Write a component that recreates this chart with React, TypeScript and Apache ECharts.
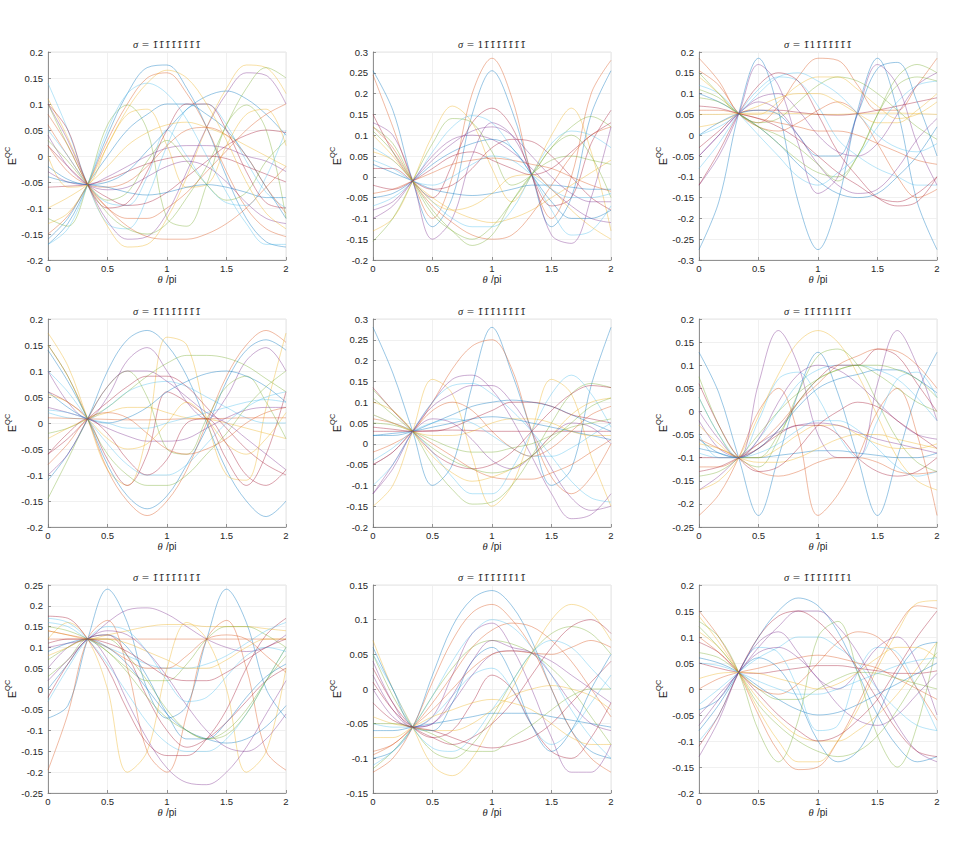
import React, { useEffect, useRef } from 'react';
import * as echarts from 'echarts';

const THETA = [0, 0.1667, 0.3333, 0.5, 0.6667, 0.8333, 1, 1.1667, 1.3333, 1.5, 1.6667, 1.8333, 2];

const P1 = [
  [-0.17, -0.13, -0.055, 0.04, 0.12, 0.17, 0.175, 0.13, 0.055, -0.04, -0.12, -0.165, -0.175],
  [-0.15, -0.115, -0.055, 0.03, 0.1, 0.15, 0.16, 0.12, 0.055, -0.03, -0.1, -0.14, -0.155],
  [0.11, 0.035, -0.055, -0.135, -0.175, -0.17, -0.12, -0.04, 0.055, 0.13, 0.175, 0.17, 0.12],
  [0.1, 0.03, -0.055, -0.125, -0.16, -0.155, -0.11, -0.03, 0.055, 0.12, 0.16, 0.155, 0.1],
  [-0.12, -0.135, -0.055, 0.06, 0.098, 0.05, -0.12, -0.135, -0.055, 0.06, 0.098, 0.05, -0.12],
  [0.14, 0.05, -0.055, -0.13, -0.14, -0.08, 0.02, 0.09, 0.1, 0.06, -0.01, -0.07, -0.1],
  [-0.06, -0.058, -0.055, -0.045, -0.03, -0.015, -0.005, 0.0, 0.0, -0.005, -0.02, -0.035, -0.05],
  [-0.02, -0.045, -0.055, -0.05, -0.03, 0.01, 0.05, 0.09, 0.115, 0.125, 0.11, 0.08, 0.04],
  [0.06, 0.0, -0.055, -0.1, -0.135, -0.155, -0.16, -0.16, -0.15, -0.13, -0.1, -0.06, -0.02],
  [-0.1, -0.08, -0.055, -0.02, 0.02, 0.045, 0.06, 0.065, 0.055, 0.04, 0.02, 0.0, -0.02],
  [-0.03, -0.05, -0.055, -0.04, -0.02, 0.0, 0.015, 0.02, 0.02, 0.015, 0.0, -0.01, -0.03],
  [0.1, 0.02, -0.055, -0.11, -0.14, -0.15, -0.13, -0.08, -0.02, 0.06, 0.13, 0.17, 0.15],
  [0.05, 0.0, -0.055, -0.09, -0.095, -0.04, 0.05, 0.0, -0.055, -0.09, -0.095, -0.04, 0.05],
  [0.02, -0.02, -0.055, -0.08, -0.095, -0.09, -0.07, -0.04, -0.01, 0.02, 0.04, 0.05, 0.045],
  [-0.16, -0.12, -0.055, 0.0, 0.05, 0.08, 0.1, 0.1, 0.08, 0.05, 0.0, -0.06, -0.12],
  [0.02, -0.03, -0.055, -0.06, -0.05, -0.02, 0.02, 0.05, 0.055, 0.04, 0.0, -0.06, -0.11],
  [0.0, -0.06, -0.055, 0.02, 0.08, 0.09, 0.02, -0.06, -0.055, 0.02, 0.08, 0.09, 0.02],
  [0.04, -0.02, -0.055, -0.065, -0.06, -0.04, -0.02, -0.01, -0.02, -0.05, -0.09, -0.12, -0.13],
  [0.03, -0.01, -0.055, -0.085, -0.07, -0.01, 0.03, -0.01, -0.055, -0.085, -0.07, -0.01, 0.03],
  [-0.17, -0.14, -0.055, 0.05, 0.12, 0.14, 0.12, 0.07, 0.0, -0.07, -0.13, -0.17, -0.17],
  [0.1, 0.05, -0.055, -0.1, -0.09, -0.03, 0.05, 0.1, 0.1, 0.05, -0.03, -0.09, -0.1],
  [-0.04, -0.05, -0.055, -0.06, -0.07, -0.075, -0.07, -0.06, -0.055, -0.06, -0.07, -0.08, -0.08],
  [0.08, 0.02, -0.055, -0.1, -0.12, -0.12, -0.1, -0.07, -0.03, 0.01, 0.05, 0.08, 0.1],
  [-0.13, -0.11, -0.055, 0.02, 0.09, 0.14, 0.165, 0.15, 0.1, 0.03, -0.05, -0.11, -0.14],
];

const P2 = [
  [0.255, 0.16, -0.01, -0.12, -0.05, 0.15, 0.255, 0.16, 0.005, -0.12, -0.05, 0.15, 0.255],
  [0.245, 0.12, -0.01, -0.1, 0.0, 0.2, 0.285, 0.19, 0.005, -0.1, 0.0, 0.2, 0.28],
  [-0.13, -0.1, -0.01, 0.1, 0.17, 0.13, 0.02, -0.06, 0.005, 0.1, 0.165, 0.06, -0.13],
  [0.13, 0.1, -0.01, -0.15, -0.1, 0.05, 0.13, 0.1, 0.005, -0.14, -0.16, -0.05, 0.12],
  [0.12, 0.08, -0.01, -0.09, -0.13, -0.15, -0.12, -0.06, 0.005, 0.07, 0.12, 0.145, 0.12],
  [-0.07, -0.05, -0.01, 0.06, 0.12, 0.147, 0.13, 0.07, 0.005, -0.08, -0.14, -0.13, -0.07],
  [0.15, 0.06, -0.01, -0.05, 0.03, 0.13, 0.165, 0.12, 0.005, -0.07, -0.05, 0.08, 0.16],
  [0.03, 0.01, -0.01, -0.03, -0.04, -0.045, -0.04, -0.03, -0.02, -0.02, -0.025, -0.03, -0.03],
  [-0.04, -0.03, -0.01, 0.01, 0.03, 0.04, 0.045, 0.04, 0.03, 0.02, 0.0, -0.02, -0.035],
  [0.1, 0.05, -0.01, -0.05, -0.08, -0.1, -0.11, -0.1, -0.08, -0.05, -0.02, 0.01, 0.04],
  [-0.1, -0.07, -0.01, 0.05, 0.09, 0.1, 0.09, 0.06, 0.02, -0.03, -0.07, -0.1, -0.11],
  [-0.155, -0.1, -0.01, 0.08, 0.14, 0.13, 0.06, -0.02, 0.005, 0.07, 0.1, 0.05, -0.05],
  [0.07, 0.04, -0.01, -0.06, -0.1, -0.12, -0.12, -0.08, 0.005, 0.08, 0.11, 0.1, 0.07],
  [0.02, 0.02, -0.01, -0.03, -0.02, 0.02, 0.07, 0.09, 0.085, 0.05, 0.0, -0.05, -0.08],
  [-0.05, -0.04, -0.01, 0.03, 0.06, 0.08, 0.09, 0.07, 0.005, -0.06, -0.1, -0.1, -0.08],
  [0.12, 0.07, -0.01, -0.07, -0.11, -0.14, -0.15, -0.14, -0.09, -0.02, 0.05, 0.1, 0.12],
  [0.06, 0.04, -0.01, -0.06, -0.08, -0.07, -0.04, 0.0, 0.005, -0.03, -0.08, -0.12, -0.15],
  [-0.08, -0.06, -0.01, 0.04, 0.08, 0.11, 0.12, 0.1, 0.05, 0.0, -0.04, -0.06, -0.06],
  [0.11, 0.06, -0.01, -0.08, -0.13, -0.165, -0.14, -0.06, 0.005, 0.04, 0.05, 0.04, 0.03],
  [0.04, 0.02, -0.01, -0.02, 0.0, 0.03, 0.05, 0.04, 0.005, -0.03, -0.05, -0.05, -0.04],
  [-0.02, -0.03, -0.01, 0.02, 0.05, 0.06, 0.04, 0.02, 0.005, 0.02, 0.06, 0.1, 0.13],
];

const P3 = [
  [-0.275, -0.16, 0.052, 0.185, 0.06, -0.16, -0.275, -0.16, 0.06, 0.185, 0.06, -0.16, -0.275],
  [0.185, 0.13, 0.052, 0.03, 0.07, 0.14, 0.185, 0.18, 0.12, 0.06, 0.06, 0.12, 0.185],
  [0.05, 0.05, 0.052, 0.053, 0.053, 0.052, 0.05, 0.05, 0.052, 0.053, 0.053, 0.052, 0.05],
  [-0.12, -0.05, 0.052, 0.17, 0.12, -0.02, -0.14, -0.1, 0.052, 0.17, 0.12, -0.02, -0.12],
  [0.15, 0.1, 0.052, 0.03, 0.04, 0.08, 0.12, 0.14, 0.13, 0.1, 0.06, 0.02, -0.01],
  [-0.08, -0.02, 0.052, 0.11, 0.14, 0.13, 0.07, -0.01, -0.05, -0.08, -0.1, -0.12, -0.12],
  [-0.12, -0.04, 0.052, 0.12, 0.15, 0.13, 0.05, -0.04, -0.1, -0.15, -0.17, -0.16, -0.1],
  [0.1, 0.08, 0.052, 0.02, -0.02, -0.07, -0.11, -0.14, -0.15, -0.14, -0.1, -0.05, 0.02],
  [0.155, 0.12, 0.052, 0.02, 0.01, 0.03, 0.06, 0.08, 0.052, -0.02, -0.1, -0.15, -0.13],
  [0.02, 0.03, 0.052, 0.07, 0.09, 0.1, 0.1, 0.08, 0.052, 0.03, 0.03, 0.06, 0.1],
  [-0.05, 0.0, 0.052, 0.09, 0.1, 0.06, 0.0, -0.04, -0.05, -0.02, 0.05, 0.12, 0.15],
  [0.09, 0.08, 0.052, 0.02, -0.02, -0.06, -0.09, -0.1, -0.05, 0.05, 0.14, 0.17, 0.15],
  [0.12, 0.1, 0.052, 0.0, -0.05, -0.1, -0.12, -0.09, -0.05, 0.02, 0.08, 0.12, 0.13],
  [-0.03, 0.01, 0.052, 0.06, 0.06, 0.055, 0.05, 0.048, 0.052, 0.06, 0.07, 0.08, 0.09],
  [0.0, 0.03, 0.052, 0.06, 0.05, 0.0, -0.05, -0.05, 0.052, 0.16, 0.175, 0.08, -0.05],
  [0.06, 0.06, 0.052, 0.04, 0.03, 0.02, 0.01, 0.01, 0.0, -0.02, -0.04, -0.06, -0.07],
  [0.14, 0.1, 0.052, 0.05, 0.08, 0.12, 0.14, 0.14, 0.11, 0.07, 0.04, 0.05, 0.08],
  [-0.05, 0.0, 0.052, 0.08, 0.06, 0.0, -0.07, -0.12, -0.14, -0.13, -0.08, -0.01, 0.04],
  [0.11, 0.09, 0.052, 0.02, 0.0, -0.03, -0.07, -0.11, -0.05, 0.05, 0.12, 0.14, 0.13],
  [0.0, 0.02, 0.052, 0.1, 0.14, 0.15, 0.13, 0.1, 0.052, 0.0, -0.03, -0.04, -0.02],
  [0.07, 0.065, 0.052, 0.04, 0.02, -0.01, -0.05, -0.09, -0.12, -0.15, -0.16, -0.14, -0.1],
];

const P4 = [
  [-0.11, -0.06, 0.008, 0.1, 0.16, 0.178, 0.15, 0.09, 0.0, -0.09, -0.15, -0.18, -0.15],
  [0.15, 0.09, 0.008, -0.09, -0.15, -0.178, -0.15, -0.09, 0.0, 0.09, 0.15, 0.178, 0.155],
  [0.173, 0.11, 0.008, -0.09, -0.12, -0.02, 0.165, 0.15, 0.008, -0.1, -0.11, 0.03, 0.173],
  [0.1, 0.04, 0.008, 0.05, 0.12, 0.145, 0.1, 0.04, 0.008, 0.05, 0.12, 0.145, 0.1],
  [-0.02, -0.01, 0.008, 0.03, 0.06, 0.09, 0.115, 0.13, 0.13, 0.125, 0.11, 0.085, 0.06],
  [0.02, 0.01, 0.008, 0.03, 0.06, 0.075, 0.08, 0.07, 0.05, 0.03, 0.01, 0.0, 0.0],
  [0.06, 0.04, 0.008, -0.07, -0.12, -0.06, 0.06, 0.04, 0.008, -0.07, -0.12, -0.06, 0.06],
  [0.14, 0.08, 0.008, -0.08, -0.14, -0.165, -0.14, -0.08, -0.01, 0.08, 0.14, 0.16, 0.14],
  [0.01, 0.009, 0.008, 0.007, 0.006, 0.006, 0.007, 0.008, 0.008, 0.009, 0.01, 0.01, 0.01],
  [-0.03, -0.01, 0.008, 0.02, 0.03, 0.03, 0.02, 0.01, 0.008, 0.0, -0.01, -0.02, -0.03],
  [0.03, 0.02, 0.008, -0.01, -0.025, -0.035, -0.035, -0.03, -0.01, 0.01, 0.025, 0.03, 0.03],
  [-0.145, -0.07, 0.008, 0.07, 0.1, 0.05, -0.05, -0.06, 0.008, 0.07, 0.09, 0.04, -0.03],
  [0.1, 0.06, 0.008, -0.04, -0.08, -0.1, -0.1, -0.08, -0.04, 0.0, 0.03, 0.05, 0.06],
  [-0.06, -0.03, 0.008, 0.04, 0.07, 0.09, 0.09, 0.07, 0.03, -0.01, -0.05, -0.08, -0.1],
  [0.06, 0.03, 0.008, 0.0, 0.01, 0.03, 0.06, 0.08, 0.095, 0.1, 0.09, 0.07, 0.04],
  [-0.08, -0.04, 0.008, 0.02, 0.01, -0.02, -0.05, -0.06, -0.05, -0.03, 0.0, 0.02, 0.03],
  [0.055, 0.04, 0.008, -0.03, -0.05, -0.04, 0.0, 0.04, 0.008, -0.04, -0.06, -0.03, 0.02],
  [-0.1, -0.06, 0.008, 0.07, 0.1, 0.1, 0.08, 0.05, 0.02, 0.0, -0.03, -0.06, -0.09],
  [0.15, 0.09, 0.008, -0.06, -0.1, -0.12, -0.12, -0.1, -0.06, -0.02, 0.03, 0.07, 0.1],
  [0.025, 0.02, 0.008, 0.0, -0.01, -0.01, 0.0, 0.01, 0.02, 0.03, 0.04, 0.045, 0.04],
  [-0.06, -0.02, 0.008, -0.02, -0.07, -0.1, -0.07, 0.0, 0.008, -0.04, -0.1, -0.12, -0.09],
];

const P5 = [
  [0.28, 0.17, 0.03, -0.1, -0.05, 0.14, 0.28, 0.17, 0.03, -0.1, -0.06, 0.14, 0.28],
  [-0.02, 0.0, 0.03, 0.1, 0.18, 0.235, 0.25, 0.18, 0.03, -0.08, -0.12, -0.08, 0.0],
  [-0.15, -0.1, 0.03, 0.155, 0.12, -0.03, -0.15, -0.1, 0.03, 0.155, 0.12, -0.03, -0.15],
  [-0.12, -0.05, 0.03, 0.1, 0.155, 0.165, 0.13, 0.06, -0.03, -0.12, -0.18, -0.17, -0.12],
  [0.13, 0.08, 0.03, -0.05, -0.11, -0.145, -0.14, -0.1, -0.03, 0.05, 0.12, 0.145, 0.135],
  [0.07, 0.05, 0.03, -0.02, -0.08, -0.12, -0.12, -0.06, 0.03, 0.12, 0.165, 0.12, 0.04],
  [0.03, 0.03, 0.03, 0.032, 0.033, 0.032, 0.03, 0.03, 0.03, 0.03, 0.03, 0.03, 0.03],
  [0.02, 0.02, 0.03, 0.05, 0.07, 0.09, 0.1, 0.105, 0.1, 0.09, 0.07, 0.05, 0.03],
  [0.06, 0.05, 0.03, 0.0, -0.03, -0.06, -0.08, -0.085, -0.085, -0.07, -0.05, -0.02, 0.01],
  [0.1, 0.08, 0.03, -0.03, -0.07, -0.09, -0.08, -0.06, -0.03, 0.02, 0.07, 0.1, 0.11],
  [-0.12, -0.06, 0.03, 0.09, 0.12, 0.14, 0.14, 0.1, 0.03, -0.06, -0.13, -0.16, -0.15],
  [0.05, 0.045, 0.03, 0.01, -0.01, -0.02, -0.02, -0.01, 0.0, 0.02, 0.04, 0.05, 0.06],
  [-0.04, -0.01, 0.03, 0.05, 0.06, 0.05, 0.02, -0.01, -0.03, -0.03, -0.01, 0.02, 0.05],
  [0.135, 0.08, 0.03, -0.02, -0.05, -0.06, -0.05, -0.02, 0.03, 0.08, 0.12, 0.14, 0.135],
  [0.02, 0.025, 0.03, 0.04, 0.05, 0.06, 0.065, 0.06, 0.05, 0.04, 0.03, 0.02, 0.01],
  [-0.05, -0.02, 0.03, 0.08, 0.1, 0.08, 0.03, -0.01, -0.03, -0.01, 0.03, 0.07, 0.09],
  [0.07, 0.05, 0.03, 0.02, 0.02, 0.03, 0.05, 0.06, 0.06, 0.05, 0.03, 0.02, 0.02],
  [-0.05, -0.02, 0.03, 0.06, 0.05, 0.01, -0.04, -0.06, -0.03, 0.02, 0.05, 0.04, 0.0],
  [0.11, 0.07, 0.03, -0.01, -0.04, -0.06, -0.07, -0.06, -0.03, 0.01, 0.05, 0.09, 0.11],
  [-0.1, -0.05, 0.03, 0.1, 0.14, 0.145, 0.12, 0.08, 0.03, -0.03, -0.09, -0.13, -0.14],
  [0.04, 0.035, 0.03, 0.03, 0.04, 0.06, 0.08, 0.1, 0.1, 0.09, 0.07, 0.06, 0.05],
];

const P6 = [
  [0.128, 0.04, -0.1, -0.225, -0.1, 0.04, 0.128, 0.04, -0.1, -0.225, -0.1, 0.04, 0.128],
  [-0.225, -0.18, -0.1, 0.0, 0.05, -0.05, -0.225, -0.18, -0.1, 0.0, 0.05, -0.05, -0.225],
  [-0.17, -0.15, -0.1, -0.01, 0.08, 0.15, 0.175, 0.15, 0.08, -0.01, -0.1, -0.15, -0.17],
  [-0.02, -0.08, -0.1, 0.06, 0.175, 0.1, -0.05, -0.1, -0.1, 0.06, 0.175, 0.1, -0.02],
  [0.075, -0.03, -0.1, -0.12, -0.06, 0.04, 0.12, 0.135, 0.1, 0.02, -0.06, -0.11, -0.13],
  [-0.05, -0.1, -0.1, -0.06, 0.0, 0.06, 0.09, 0.1, 0.1, 0.09, 0.07, 0.03, -0.02],
  [-0.13, -0.12, -0.1, -0.08, -0.04, 0.02, 0.07, 0.1, 0.1, 0.135, 0.12, 0.06, 0.0],
  [-0.08, -0.09, -0.1, -0.1, -0.095, -0.09, -0.085, -0.085, -0.09, -0.095, -0.1, -0.1, -0.09],
  [-0.06, -0.08, -0.1, -0.13, -0.14, -0.13, -0.11, -0.1, -0.1, -0.11, -0.13, -0.135, -0.13],
  [-0.03, -0.07, -0.1, -0.1, -0.08, -0.05, -0.03, -0.03, -0.05, -0.07, -0.08, -0.08, -0.07],
  [-0.17, -0.14, -0.1, -0.07, -0.045, -0.03, -0.025, -0.03, -0.045, -0.06, -0.07, -0.08, -0.09],
  [0.03, -0.05, -0.1, -0.1, -0.05, 0.02, 0.07, 0.09, 0.1, 0.08, 0.05, 0.02, 0.0],
  [0.03, -0.05, -0.1, -0.02, 0.07, 0.085, 0.03, -0.05, -0.1, -0.02, 0.07, 0.085, 0.03],
  [-0.1, -0.1, -0.1, -0.08, -0.05, -0.03, -0.03, -0.05, -0.1, -0.13, -0.14, -0.13, -0.1],
  [-0.06, -0.09, -0.1, -0.08, -0.04, 0.01, 0.05, 0.07, 0.08, 0.09, 0.09, 0.07, 0.04],
  [-0.12, -0.12, -0.1, -0.07, -0.03, 0.02, 0.06, 0.1, 0.12, 0.135, 0.13, 0.1, 0.05],
  [-0.07, -0.08, -0.1, -0.11, -0.11, -0.1, -0.08, -0.06, -0.05, -0.05, -0.06, -0.07, -0.08],
  [0.0, -0.06, -0.1, -0.06, 0.02, 0.08, 0.1, 0.09, 0.06, 0.02, -0.02, -0.05, -0.06],
  [-0.14, -0.13, -0.1, -0.05, 0.0, 0.04, 0.07, 0.09, 0.1, 0.1, 0.09, 0.07, 0.03],
  [-0.09, -0.1, -0.1, -0.09, -0.07, -0.04, -0.02, -0.02, -0.04, -0.08, -0.12, -0.14, -0.13],
  [0.06, -0.03, -0.1, -0.13, -0.12, -0.08, -0.03, 0.0, 0.02, 0.01, -0.02, -0.05, -0.08],
];

const P7 = [
  [-0.07, -0.04, 0.12, 0.24, 0.16, 0.0, -0.07, -0.04, 0.12, 0.24, 0.16, 0.0, -0.07],
  [-0.195, -0.06, 0.12, 0.165, 0.05, -0.15, -0.2, -0.06, 0.12, 0.165, 0.05, -0.15, -0.195],
  [0.12, 0.16, 0.12, 0.0, -0.2, -0.15, 0.05, 0.16, 0.12, 0.0, -0.2, -0.15, 0.05],
  [0.1, 0.11, 0.12, 0.16, 0.19, 0.195, 0.18, 0.15, 0.12, 0.1, 0.09, 0.1, 0.13],
  [0.03, 0.07, 0.12, 0.12, 0.08, 0.02, -0.05, -0.1, -0.12, -0.1, -0.05, 0.02, 0.08],
  [0.17, 0.16, 0.12, 0.06, -0.01, -0.08, -0.13, -0.15, -0.15, -0.12, -0.06, 0.02, 0.1],
  [0.175, 0.17, 0.12, 0.05, -0.05, -0.13, -0.16, -0.16, -0.12, -0.05, 0.05, 0.13, 0.17],
  [0.0, 0.06, 0.12, 0.13, 0.1, 0.03, -0.06, -0.12, -0.12, -0.08, -0.02, 0.03, 0.06],
  [0.12, 0.12, 0.12, 0.12, 0.12, 0.12, 0.12, 0.12, 0.12, 0.12, 0.12, 0.12, 0.12],
  [0.14, 0.13, 0.12, 0.13, 0.14, 0.15, 0.155, 0.155, 0.15, 0.15, 0.15, 0.145, 0.14],
  [0.05, 0.1, 0.12, 0.07, -0.03, -0.12, -0.19, -0.225, -0.23, -0.2, -0.14, -0.06, 0.02],
  [0.07, 0.1, 0.12, 0.09, 0.05, 0.02, 0.02, 0.06, 0.12, 0.15, 0.15, 0.13, 0.1],
  [0.16, 0.15, 0.12, 0.1, 0.08, 0.06, 0.05, 0.05, 0.06, 0.08, 0.11, 0.14, 0.16],
  [-0.02, 0.06, 0.12, 0.13, 0.08, -0.02, -0.1, -0.14, -0.12, -0.08, -0.03, 0.02, 0.05],
  [0.09, 0.11, 0.12, 0.1, 0.06, 0.0, -0.06, -0.1, -0.12, -0.13, -0.12, -0.09, -0.04],
  [0.14, 0.13, 0.12, 0.1, 0.07, 0.05, 0.05, 0.08, 0.12, 0.13, 0.12, 0.08, 0.04],
  [0.08, 0.1, 0.12, 0.12, 0.11, 0.09, 0.07, 0.05, 0.05, 0.07, 0.1, 0.12, 0.12],
  [0.02, 0.07, 0.12, 0.14, 0.13, 0.09, 0.03, -0.04, -0.1, -0.14, -0.15, -0.12, -0.06],
  [0.15, 0.14, 0.12, 0.09, 0.04, -0.02, -0.07, -0.1, -0.12, -0.11, -0.06, 0.02, 0.1],
  [-0.03, 0.05, 0.12, 0.15, 0.14, 0.09, 0.02, -0.03, -0.02, 0.03, 0.08, 0.1, 0.09],
  [0.11, 0.12, 0.12, 0.11, 0.09, 0.06, 0.03, 0.02, 0.02, 0.04, 0.07, 0.1, 0.12],
];

const P8 = [
  [-0.1, -0.09, -0.055, 0.02, 0.09, 0.13, 0.142, 0.12, 0.07, 0.0, -0.06, -0.09, -0.1],
  [-0.12, -0.1, -0.055, 0.01, 0.07, 0.11, 0.122, 0.1, 0.06, 0.0, -0.06, -0.1, -0.12],
  [0.07, 0.0, -0.055, -0.11, -0.125, -0.1, -0.05, 0.0, 0.052, 0.1, 0.122, 0.11, 0.07],
  [0.04, -0.02, -0.055, -0.04, 0.02, 0.08, 0.095, 0.06, 0.0, -0.07, -0.12, -0.12, -0.08],
  [0.05, -0.01, -0.055, -0.09, -0.1, -0.08, -0.04, 0.01, 0.052, 0.08, 0.09, 0.08, 0.05],
  [-0.05, -0.055, -0.055, -0.04, -0.01, 0.02, 0.03, 0.0, -0.052, -0.08, -0.06, -0.02, 0.02],
  [0.03, -0.02, -0.055, -0.07, -0.06, -0.02, 0.02, 0.0, -0.052, -0.09, -0.1, -0.07, -0.02],
  [-0.06, -0.06, -0.055, -0.05, -0.045, -0.04, -0.035, -0.035, -0.035, -0.04, -0.045, -0.05, -0.055],
  [-0.095, -0.08, -0.055, -0.02, 0.02, 0.06, 0.085, 0.095, 0.09, 0.07, 0.04, 0.0, -0.04],
  [-0.04, -0.05, -0.055, -0.06, -0.06, -0.05, -0.03, -0.01, 0.0, 0.005, 0.0, -0.01, -0.03],
  [0.0, -0.04, -0.055, -0.05, -0.02, 0.02, 0.05, 0.055, 0.052, 0.04, 0.02, 0.0, -0.02],
  [-0.115, -0.09, -0.055, -0.01, 0.03, 0.06, 0.07, 0.065, 0.052, 0.03, 0.0, -0.04, -0.08],
  [0.05, 0.0, -0.055, -0.085, -0.09, -0.07, -0.03, 0.01, 0.052, 0.07, 0.06, 0.03, 0.0],
  [-0.02, -0.045, -0.055, -0.06, -0.07, -0.08, -0.085, -0.08, -0.07, -0.05, -0.02, 0.01, 0.04],
  [0.06, 0.0, -0.055, -0.06, -0.02, 0.04, 0.06, 0.02, -0.052, -0.09, -0.06, 0.0, 0.05],
  [-0.09, -0.08, -0.055, -0.03, 0.0, 0.03, 0.05, 0.055, 0.052, 0.05, 0.06, 0.07, 0.06],
  [-0.07, -0.07, -0.055, -0.04, -0.03, -0.02, -0.015, -0.02, -0.03, -0.05, -0.07, -0.08, -0.08],
  [0.02, -0.03, -0.055, -0.05, -0.01, 0.04, 0.07, 0.06, 0.052, 0.02, -0.02, -0.05, -0.06],
  [-0.05, -0.05, -0.055, -0.065, -0.08, -0.09, -0.09, -0.07, -0.052, -0.03, -0.01, 0.0, 0.0],
  [-0.11, -0.09, -0.055, -0.01, 0.04, 0.08, 0.1, 0.09, 0.06, 0.02, -0.03, -0.07, -0.1],
  [0.01, -0.03, -0.055, -0.07, -0.08, -0.07, -0.05, -0.02, 0.02, 0.06, 0.09, 0.1, 0.08],
];

const P9 = [
  [-0.08, -0.03, 0.032, 0.1, 0.15, 0.175, 0.16, 0.11, 0.032, -0.05, -0.11, -0.14, -0.13],
  [0.15, 0.1, 0.032, -0.05, -0.12, -0.155, -0.15, -0.1, -0.03, 0.05, 0.12, 0.16, 0.155],
  [0.14, 0.09, 0.032, -0.04, -0.1, -0.14, -0.14, -0.1, -0.04, 0.04, 0.11, 0.165, 0.17],
  [-0.05, -0.01, 0.032, 0.08, 0.12, 0.15, 0.15, 0.12, 0.07, 0.0, -0.07, -0.12, -0.14],
  [0.13, 0.1, 0.032, -0.08, -0.14, -0.06, 0.1, 0.13, 0.032, -0.09, -0.15, -0.07, 0.09],
  [-0.1, -0.05, 0.032, 0.08, 0.07, 0.0, -0.08, -0.07, 0.032, 0.08, 0.07, 0.0, -0.08],
  [0.05, 0.04, 0.032, 0.03, 0.035, 0.04, 0.045, 0.045, 0.04, 0.035, 0.03, 0.03, 0.035],
  [0.06, 0.05, 0.032, 0.005, -0.02, -0.04, -0.05, -0.045, -0.03, -0.01, 0.01, 0.03, 0.05],
  [0.0, 0.02, 0.032, 0.04, 0.05, 0.06, 0.065, 0.06, 0.05, 0.04, 0.02, 0.0, -0.02],
  [0.11, 0.08, 0.032, -0.02, -0.06, -0.09, -0.1, -0.1, -0.08, -0.05, -0.01, 0.04, 0.09],
  [-0.13, -0.06, 0.032, 0.09, 0.11, 0.07, 0.02, 0.0, 0.032, 0.08, 0.1, 0.05, -0.05],
  [0.07, 0.06, 0.032, 0.0, -0.02, -0.02, 0.0, 0.02, 0.032, 0.03, 0.02, 0.01, 0.0],
  [-0.03, 0.0, 0.032, 0.06, 0.08, 0.1, 0.1, 0.08, 0.05, 0.0, -0.04, -0.07, -0.08],
  [0.09, 0.07, 0.032, -0.01, -0.05, -0.08, -0.1, -0.09, -0.06, -0.02, 0.04, 0.1, 0.15],
  [-0.04, -0.02, 0.032, 0.06, 0.04, -0.02, -0.1, -0.14, -0.12, -0.05, 0.03, 0.08, 0.09],
  [0.1, 0.07, 0.032, 0.0, -0.01, 0.01, 0.05, 0.09, 0.11, 0.1, 0.06, 0.0, -0.06],
  [0.02, 0.03, 0.032, 0.03, 0.02, 0.01, 0.0, 0.01, 0.032, 0.06, 0.08, 0.08, 0.06],
  [-0.07, -0.02, 0.032, 0.07, 0.08, 0.06, 0.02, -0.03, -0.06, -0.07, -0.05, -0.01, 0.03],
  [0.12, 0.08, 0.032, -0.03, -0.07, -0.1, -0.12, -0.13, -0.12, -0.09, -0.04, 0.02, 0.07],
  [0.05, 0.045, 0.032, 0.015, 0.0, -0.01, -0.01, 0.0, 0.015, 0.03, 0.045, 0.055, 0.06],
  [-0.11, -0.05, 0.032, 0.1, 0.14, 0.15, 0.13, 0.09, 0.04, -0.02, -0.08, -0.12, -0.13],
];

const PANELS = [P1, P2, P3, P4, P5, P6, P7, P8, P9];
const Y_MIN = [-0.2, -0.2, -0.3, -0.2, -0.2, -0.25, -0.25, -0.15, -0.2];
const Y_MAX = [0.2, 0.3, 0.2, 0.2, 0.3, 0.2, 0.25, 0.15, 0.2];
// 'b' = barred digit, '1' = plain digit
const SIGMA_CODES = ['bbbbbbbb', '1bbbbbbb', 'b1bbbbbb', 'bb1bbbbb', 'bbb1bbbb', 'bbbb1bbb', 'bbbbb1bb', 'bbbbbb1b', 'bbbbbbb1'];
const COLORS = ['#0072BD', '#D95319', '#EDB120', '#7E2F8E', '#77AC30', '#4DBEEE', '#A2142F'];

const COL_LEFT = [48, 373, 699];
const ROW_TOP = [52, 319, 585];
const PW = 238;
const PH = 208;

const SANS = 'Liberation Sans, Arial, Helvetica, sans-serif';
const SERIF = 'Liberation Serif, DejaVu Serif, Times New Roman, serif';

function fmt(v: number) {
  const s = parseFloat(v.toFixed(2));
  return (s === 0 ? 0 : s).toString();
}

export default function App() {
  const ref = useRef<HTMLDivElement>(null);
  useEffect(() => {
    if (!ref.current) return;
    const chart = echarts.init(ref.current, undefined, { renderer: 'svg' });
    const grids: any[] = [];
    const xAxes: any[] = [];
    const yAxes: any[] = [];
    const series: any[] = [];
    const graphics: any[] = [];
    PANELS.forEach((curves, p) => {
      const left = COL_LEFT[p % 3];
      const top = ROW_TOP[Math.floor(p / 3)];
      grids.push({ left, top, width: PW, height: PH, show: true, borderColor: '#e4e4e4', borderWidth: 1, backgroundColor: 'transparent' });
      xAxes.push({
        type: 'value', gridIndex: p, min: 0, max: 2, interval: 0.5,
        axisLine: { show: true, onZero: false, lineStyle: { color: '#7a7a7a', width: 0.8 } },
        axisTick: { show: true, inside: true, length: 3, lineStyle: { color: '#7a7a7a', width: 0.8 } },
        axisLabel: { fontSize: 9.5, color: '#262626', fontFamily: SANS, margin: 3, formatter: (v: number) => fmt(v) },
        splitLine: { show: true, lineStyle: { color: '#ececec', width: 0.8 } },
        name: '{t|θ} {p|/pi}', nameLocation: 'middle', nameGap: 4,
        nameTextStyle: {
          rich: {
            t: { fontFamily: SERIF, fontStyle: 'italic', fontSize: 10.5, color: '#262626' },
            p: { fontFamily: SANS, fontSize: 10, color: '#262626' },
          },
        },
      });
      yAxes.push({
        type: 'value', gridIndex: p, min: Y_MIN[p], max: Y_MAX[p], interval: 0.05,
        axisLine: { show: true, onZero: false, lineStyle: { color: '#7a7a7a', width: 0.8 } },
        axisTick: { show: true, inside: true, length: 3, lineStyle: { color: '#7a7a7a', width: 0.8 } },
        axisLabel: { fontSize: 9.5, color: '#262626', fontFamily: SANS, margin: 5, formatter: (v: number) => fmt(v) },
        splitLine: { show: true, lineStyle: { color: '#ececec', width: 0.8 } },
        name: '{e|E}{s|QC}', nameLocation: 'middle', nameGap: 22, nameRotate: 90,
        nameTextStyle: {
          rich: {
            e: { fontFamily: SANS, fontSize: 11, color: '#262626', verticalAlign: 'bottom', lineHeight: 14 },
            s: { fontFamily: SANS, fontSize: 7.5, color: '#262626', verticalAlign: 'top', lineHeight: 14 },
          },
        },
      });
      curves.forEach((c, k) => {
        series.push({
          type: 'line', xAxisIndex: p, yAxisIndex: p, smooth: 0.35, showSymbol: false, symbol: 'none',
          silent: true, clip: true,
          lineStyle: { width: 0.8, color: COLORS[k % COLORS.length], opacity: 0.5 },
          data: THETA.map((t, i) => [t, c[i]]),
        });
      });
      const code = SIGMA_CODES[p];
      const digits = code.split('').map((ch) => (ch === 'b' ? '1\u0304' : '1')).join('');
      graphics.push({
        type: 'text', x: left + PW / 2, y: top - 8, silent: true,
        style: {
          text: '{i|σ} {n|= ' + digits + '}', align: 'center', verticalAlign: 'middle',
          rich: {
            i: { fontFamily: SERIF, fontStyle: 'italic', fontSize: 10.5, fill: '#262626' },
            n: { fontFamily: 'DejaVu Serif, serif', fontSize: 9.5, fill: '#262626' },
          },
        },
      });
    });
    chart.setOption({
      animation: false,
      backgroundColor: '#ffffff',
      grid: grids,
      xAxis: xAxes,
      yAxis: yAxes,
      series,
      graphic: graphics,
    });
    return () => chart.dispose();
  }, []);
  return <div ref={ref} style={{ position: 'absolute', left: 0, top: 0, width: 969, height: 855 }} />;
}
